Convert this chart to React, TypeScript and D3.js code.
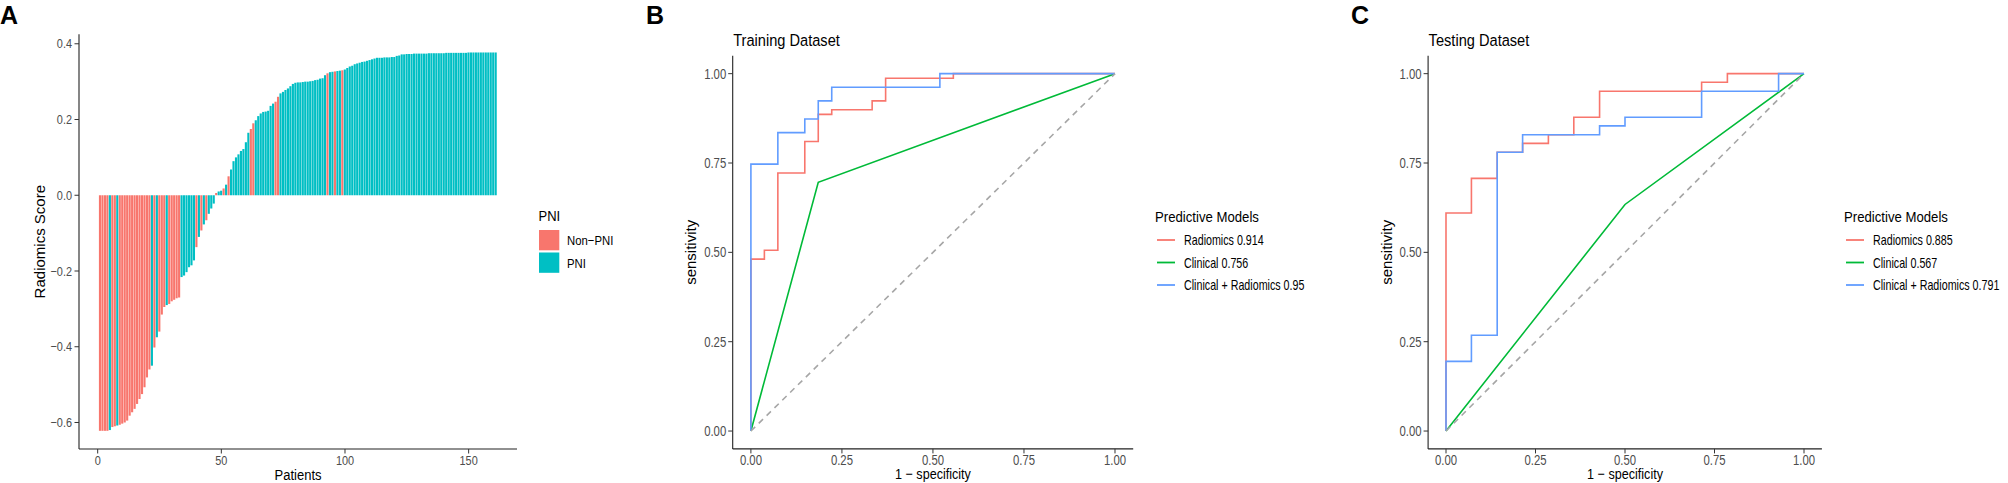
import React from 'react';
import * as d3 from 'd3';

// Panel A: radiomics score per patient, sorted ascending (1 = PNI, 0 = Non-PNI)
const radScore: number[] = [
  -0.622, -0.622, -0.622, -0.622, -0.62, -0.612, -0.61, -0.608, -0.606, -0.603,
  -0.6, -0.595, -0.582, -0.573, -0.564, -0.551, -0.538, -0.525, -0.507, -0.481,
  -0.46, -0.45, -0.402, -0.375, -0.36, -0.315, -0.295, -0.29, -0.287, -0.28,
  -0.276, -0.272, -0.27, -0.216, -0.212, -0.203, -0.19, -0.185, -0.172, -0.137,
  -0.11, -0.093, -0.077, -0.066, -0.049, -0.035, -0.022, 0.006, 0.01,
  0.012, 0.018, 0.028, 0.05, 0.068, 0.09, 0.1, 0.108, 0.117, 0.122,
  0.14, 0.165, 0.175, 0.19, 0.198, 0.209, 0.216, 0.22, 0.221, 0.223,
  0.236, 0.242, 0.247, 0.26, 0.269, 0.273, 0.278, 0.282, 0.288, 0.294,
  0.297, 0.298, 0.298, 0.299, 0.3, 0.3, 0.301, 0.302, 0.304, 0.305,
  0.308, 0.309, 0.317, 0.322, 0.325, 0.326, 0.327, 0.328, 0.329, 0.33,
  0.332, 0.336, 0.34, 0.342, 0.346, 0.348, 0.35, 0.352, 0.353, 0.355,
  0.357, 0.359, 0.361, 0.363, 0.363, 0.363, 0.364, 0.364, 0.364, 0.365,
  0.365, 0.368, 0.369, 0.372, 0.372, 0.373, 0.373, 0.373, 0.374, 0.374,
  0.374, 0.374, 0.374, 0.374, 0.375, 0.375, 0.375, 0.375, 0.375, 0.375,
  0.375, 0.376, 0.376, 0.376, 0.376, 0.376, 0.376, 0.376, 0.376, 0.376,
  0.377, 0.377, 0.377, 0.377, 0.377, 0.377, 0.377, 0.377, 0.377, 0.377,
  0.377, 0.377,
];
const isPNI: number[] = [
  0, 0, 0, 0, 1, 0, 0, 1, 0, 0,
  0, 0, 0, 0, 0, 0, 0, 0, 0, 0,
  0, 1, 0, 1, 0, 0, 0, 1, 0, 0,
  0, 0, 0, 1, 1, 1, 1, 1, 1, 0,
  1, 0, 1, 0, 1, 1, 1, 0, 1, 1,
  0, 1, 0, 1, 1, 1, 1, 1, 1, 1,
  1, 0, 0, 1, 1, 1, 1, 1, 1, 1,
  1, 0, 0, 1, 1, 1, 1, 1, 1, 1,
  1, 1, 1, 1, 1, 1, 1, 1, 1, 1,
  1, 1, 0, 1, 1, 0, 1, 1, 0, 1,
  1, 1, 1, 1, 1, 1, 1, 1, 1, 1,
  1, 1, 1, 1, 1, 1, 1, 1, 1, 1,
  1, 1, 1, 1, 1, 1, 1, 1, 1, 1,
  1, 1, 1, 1, 1, 1, 1, 1, 1, 1,
  1, 1, 1, 1, 1, 1, 1, 1, 1, 1,
  1, 1, 1, 1, 1, 1, 1, 1, 1, 1,
  1,
];
const pniLabels = ['Non\u2212PNI', 'PNI'];
const scoreTicks = [-0.6, -0.4, -0.2, 0, 0.2, 0.4];
const patientTicks = [0, 50, 100, 150];

// Panel B: training ROC vertices (1 - specificity, sensitivity)
const trainRadFpr = [0, 0, 0.037, 0.037, 0.074, 0.074, 0.148, 0.148, 0.185, 0.185, 0.222, 0.222, 0.333, 0.333, 0.37, 0.37, 0.556, 0.556, 1];
const trainRadTpr = [0, 0.481, 0.481, 0.506, 0.506, 0.722, 0.722, 0.81, 0.81, 0.886, 0.886, 0.899, 0.899, 0.924, 0.924, 0.987, 0.987, 1, 1];
const trainCliFpr = [0, 0.185, 1];
const trainCliTpr = [0, 0.696, 1];
const trainComFpr = [0, 0, 0.074, 0.074, 0.148, 0.148, 0.185, 0.185, 0.222, 0.222, 0.519, 0.519, 1];
const trainComTpr = [0, 0.747, 0.747, 0.835, 0.835, 0.873, 0.873, 0.924, 0.924, 0.962, 0.962, 1, 1];
const trainAuc = ['Radiomics 0.914', 'Clinical 0.756', 'Clinical + Radiomics 0.95'];

// Panel C: testing ROC vertices
const testRadFpr = [0, 0, 0.071, 0.071, 0.143, 0.143, 0.214, 0.214, 0.286, 0.286, 0.357, 0.357, 0.429, 0.429, 0.714, 0.714, 0.786, 0.786, 1];
const testRadTpr = [0, 0.61, 0.61, 0.707, 0.707, 0.78, 0.78, 0.805, 0.805, 0.829, 0.829, 0.878, 0.878, 0.951, 0.951, 0.976, 0.976, 1, 1];
const testCliFpr = [0, 0.5, 1];
const testCliTpr = [0, 0.634, 1];
const testComFpr = [0, 0, 0.071, 0.071, 0.143, 0.143, 0.214, 0.214, 0.429, 0.429, 0.5, 0.5, 0.714, 0.714, 0.929, 0.929, 1];
const testComTpr = [0, 0.195, 0.195, 0.268, 0.268, 0.78, 0.78, 0.829, 0.829, 0.854, 0.854, 0.878, 0.878, 0.951, 0.951, 1, 1];
const testAuc = ['Radiomics 0.885', 'Clinical 0.567', 'Clinical + Radiomics 0.791'];

const rocTicks = [0, 0.25, 0.5, 0.75, 1];

const FONT = 'Liberation Sans, Arial, sans-serif';
const SX = 0.84; // figure text is horizontally squeezed
const pniColors = ['#F8766D', '#00BFC4'];
const rocColors = ['#F8766D', '#00BA38', '#619CFF'];
const tickGrey = '#4D4D4D';

const Txt = ({ x, y, size, anchor = 'start', fill = '#000', sx = SX, children }: any) => (
  <g transform={`translate(${x},${y}) scale(${sx},1)`}>
    <text fontFamily={FONT} fontSize={size} textAnchor={anchor} fill={fill}>{children}</text>
  </g>
);

const VTxt = ({ x, y, size, children }: any) => (
  <text transform={`translate(${x},${y}) rotate(-90)`} fontFamily={FONT} fontSize={size} textAnchor="middle">{children}</text>
);

const Letter = ({ x, label }: any) => (
  <text x={x} y={24} fontFamily={FONT} fontWeight="bold" fontSize={25}>{label}</text>
);

const zip = (xs: number[], ys: number[]) => xs.map((v, i) => [v, ys[i]] as [number, number]);

const RocPanel = ({ left, right, title, curves, labels, legendX }: any) => {
  const x = d3.scaleLinear().domain([-0.05, 1.05]).range([left, right]);
  const y = d3.scaleLinear().domain([-0.05, 1.05]).range([448.9, 55.8]);
  const line = d3.line<[number, number]>().x(d => x(d[0])).y(d => y(d[1]));
  const fmt = d3.format('.2f');
  const yl = y.range();
  return (
    <g>
      <Txt x={left + 0.5} y={46} size={17} sx={0.86}>{title}</Txt>
      {curves.map((c: [number, number][], i: number) => (
        <path key={i} d={line(c) || ''} fill="none" stroke={rocColors[i]} strokeWidth={1.6} />
      ))}
      <path d={line([[0, 0], [1, 1]]) || ''} stroke="#A6A6A6" strokeWidth={1.6} strokeDasharray="6,5" fill="none" />
      <line x1={left} x2={left} y1={yl[1]} y2={yl[0]} stroke="#222" strokeWidth={1.1} />
      <line x1={left} x2={right} y1={yl[0]} y2={yl[0]} stroke="#222" strokeWidth={1.1} />
      {rocTicks.map(t => (
        <g key={'y' + t}>
          <line x1={left - 4.5} x2={left} y1={y(t)} y2={y(t)} stroke="#333" strokeWidth={1} />
          <Txt x={left - 6.5} y={y(t) + 5} size={14} anchor="end" fill={tickGrey} sx={0.81}>{fmt(t)}</Txt>
        </g>
      ))}
      {rocTicks.map(t => (
        <g key={'x' + t}>
          <line x1={x(t)} x2={x(t)} y1={yl[0]} y2={yl[0] + 4.5} stroke="#333" strokeWidth={1} />
          <Txt x={x(t)} y={465} size={14} anchor="middle" fill={tickGrey} sx={0.81}>{fmt(t)}</Txt>
        </g>
      ))}
      <VTxt x={left - 36.5} y={(yl[0] + yl[1]) / 2} size={15}>sensitivity</VTxt>
      <Txt x={(left + right) / 2} y={479} size={15} anchor="middle">1 {'\u2212'} specificity</Txt>
      <Txt x={legendX} y={221.5} size={15.5} sx={0.85}>Predictive Models</Txt>
      {labels.map((l: string, i: number) => (
        <g key={l}>
          <line x1={legendX + 2} x2={legendX + 20} y1={240 + i * 22.5} y2={240 + i * 22.5} stroke={rocColors[i]} strokeWidth={1.8} />
          <Txt x={legendX + 29} y={245 + i * 22.5} size={14} sx={0.765}>{l}</Txt>
        </g>
      ))}
    </g>
  );
};

const WaterfallPanel = () => {
  const x = d3.scaleLinear().domain([-7.55, 169.55]).range([79, 517]);
  const y = d3.scaleLinear().domain([-0.67, 0.425]).range([449, 34.3]);
  const fmt = d3.format('.1f');
  return (
    <g>
      {radScore.map((v, i) => {
        const n = i + 1;
        const x0 = x(n - 0.5);
        const x1 = x(n + 0.5);
        return (
          <rect key={i} x={x0} width={x1 - x0 - 0.35} y={y(Math.max(0, v))}
            height={Math.abs(y(v) - y(0))} fill={pniColors[isPNI[i]]} />
        );
      })}
      <line x1={79} x2={79} y1={34.3} y2={449} stroke="#222" strokeWidth={1.1} />
      <line x1={79} x2={517} y1={449} y2={449} stroke="#222" strokeWidth={1.1} />
      {scoreTicks.map(t => (
        <g key={'y' + t}>
          <line x1={74.5} x2={79} y1={y(t)} y2={y(t)} stroke="#333" strokeWidth={1} />
          <Txt x={72} y={y(t) + 4.6} size={13} anchor="end" fill={tickGrey}>{fmt(t)}</Txt>
        </g>
      ))}
      {patientTicks.map(t => (
        <g key={'x' + t}>
          <line x1={x(t)} x2={x(t)} y1={449} y2={453.5} stroke="#333" strokeWidth={1} />
          <Txt x={x(t)} y={464.5} size={13} anchor="middle" fill={tickGrey}>{t}</Txt>
        </g>
      ))}
      <VTxt x={45} y={241.7} size={15}>Radiomics Score</VTxt>
      <Txt x={298} y={480} size={15.5} anchor="middle">Patients</Txt>
      <Txt x={538.5} y={220.5} size={15.5}>PNI</Txt>
      {pniLabels.map((l, i) => (
        <g key={l}>
          <rect x={539} y={230 + i * 22.5} width={20.3} height={20.3} fill={pniColors[i]} />
          <Txt x={567} y={245 + i * 22.5} size={13.5}>{l}</Txt>
        </g>
      ))}
    </g>
  );
};

const App = () => {
  const trainCurves = [zip(trainRadFpr, trainRadTpr), zip(trainCliFpr, trainCliTpr), zip(trainComFpr, trainComTpr)];
  const testCurves = [zip(testRadFpr, testRadTpr), zip(testCliFpr, testCliTpr), zip(testComFpr, testComTpr)];
  return (
    <svg width={2008} height={483} style={{ position: 'absolute', left: 0, top: 0, background: '#fff' }}>
      <rect width={2008} height={483} fill="#fff" />
      <Letter x={0} label="A" />
      <Letter x={646} label="B" />
      <Letter x={1351} label="C" />
      <WaterfallPanel />
      <RocPanel left={732.7} right={1133.2} title="Training Dataset" curves={trainCurves} labels={trainAuc} legendX={1155} />
      <RocPanel left={1428.1} right={1821.9} title="Testing Dataset" curves={testCurves} labels={testAuc} legendX={1844} />
    </svg>
  );
};

export default App;
